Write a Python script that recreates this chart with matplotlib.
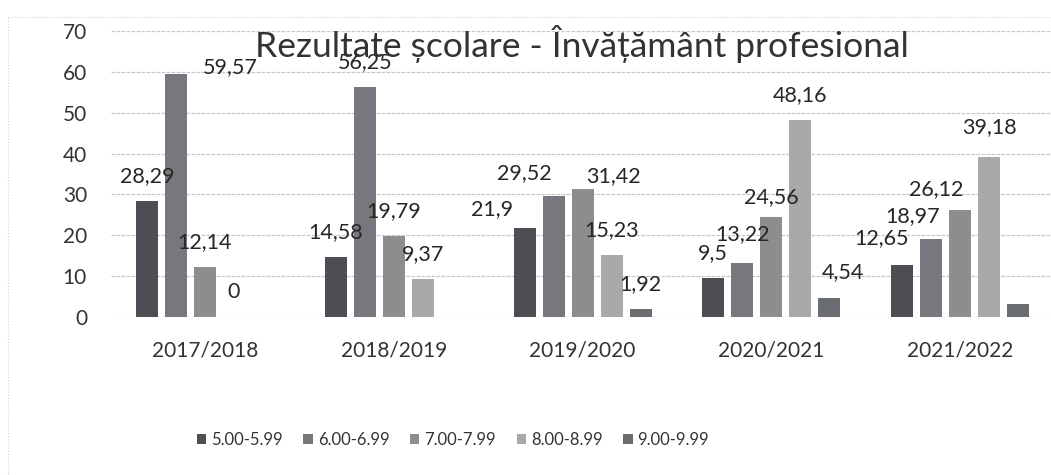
import numpy as np
import matplotlib
matplotlib.use("Agg")
import matplotlib.pyplot as plt
from matplotlib.lines import Line2D
from matplotlib.patches import Patch

categories = ["2017/2018", "2018/2019", "2019/2020", "2020/2021", "2021/2022"]
series_names = ["5.00-5.99", "6.00-6.99", "7.00-7.99", "8.00-8.99", "9.00-9.99"]
s_5 = [28.29, 14.58, 21.9, 9.5, 12.65]
s_6 = [59.57, 56.25, 29.52, 13.22, 18.97]
s_7 = [12.14, 19.79, 31.42, 24.56, 26.12]
s_8 = [0, 9.37, 15.23, 48.16, 39.18]
s_9 = [np.nan, np.nan, 1.92, 4.54, 3.3]
# which bars carry a visible data label in the reference
label_shown_9 = [False, False, True, True, False]
yticks = [0, 10, 20, 30, 40, 50, 60, 70]
title = "Rezultate școlare - Învățământ profesional"

series = [s_5, s_6, s_7, s_8, s_9]
shown = [[True] * 5, [True] * 5, [True] * 5, [True] * 5, label_shown_9]
colors = ["#4d4d54", "#77777d", "#8d8d90", "#a9a9a9", "#6a6e73"]

# label placement (pixels): default offset above bar, plus Excel-like nudges
label_dy_default = 25
label_nudge = {
    (1, 0): (54, 7),
    (0, 2): (-32, 18),
    (1, 2): (-29, 23),
    (2, 2): (31, 13),
    (2, 3): (0, 20),
    (1, 3): (0, 29),
    (4, 3): (14, 26),
    (0, 4): (-20, 27),
    (1, 4): (-18, 23),
    (2, 4): (-24, 21),
    (3, 4): (0, 30),
}

plt.rcParams["font.family"] = ["Lato", "DejaVu Sans"]

fig = plt.figure(figsize=(10.51, 4.75), dpi=100)
W, H = 1051, 475
unit_px = 188.75
left_px = 205 - 0.5 * unit_px
ax = fig.add_axes([left_px / W, 158 / H, (W - left_px) / W, 286 / H])

x = np.arange(len(categories))
pitch = 29 / unit_px
width = 22 / unit_px
px2pt = 72 / 100
for i, (vals, c) in enumerate(zip(series, colors)):
    xs = x + (i - 2) * pitch
    ax.bar(xs, vals, width=width, color=c, zorder=3, label=series_names[i])
    for j, (xi, v, s) in enumerate(zip(xs, vals, shown[i])):
        if s and not np.isnan(v):
            dx, dy = label_nudge.get((i, j), (0, label_dy_default))
            ax.annotate(f"{v:g}".replace(".", ","), (xi, v),
                        xytext=(dx * px2pt, dy * px2pt),
                        textcoords="offset points", ha="center", va="center",
                        fontsize=15.5, color="#262626", zorder=5)

ax.set_xlim(-0.5, -0.5 + (W - left_px) / unit_px)
ax.set_ylim(0, 70)
ax.set_yticks(yticks)
ax.set_yticklabels([str(t) for t in yticks], fontsize=15, color="#333333")
ax.set_xticks(x)
ax.set_xticklabels(categories, fontsize=15, color="#333333")
ax.tick_params(axis="both", length=0)
ax.tick_params(axis="x", pad=17)
ax.tick_params(axis="y", pad=17)
ax.grid(axis="y", color="#c8c8c8", linewidth=0.9, linestyle=(0, (3, 1)), zorder=0)
for sp in ax.spines.values():
    sp.set_visible(False)
ax.set_facecolor("none")

fig.text(582 / W, 1 - 44 / H, title, ha="center", va="center", fontsize=25.5,
         color="#333333", zorder=10)

# faint chart border from the scan
fig.add_artist(Line2D([8 / W, 8 / W], [0, 1 - 17 / H], transform=fig.transFigure,
                      color="#d5d5d5", lw=0.8, linestyle=":"))
fig.add_artist(Line2D([8 / W, 1], [1 - 17 / H, 1 - 17 / H], transform=fig.transFigure,
                      color="#d5d5d5", lw=0.8, linestyle=":"))

handles = [Patch(facecolor=c, edgecolor="none") for c in colors]
fig.legend(handles, series_names, loc="center", bbox_to_anchor=(453 / W, 1 - 440 / H),
           ncol=5, frameon=False, fontsize=12, handlelength=0.55, handleheight=0.55,
           handletextpad=0.3, columnspacing=1.25, labelcolor="#333333")

fig.savefig("out.png", dpi=100)
